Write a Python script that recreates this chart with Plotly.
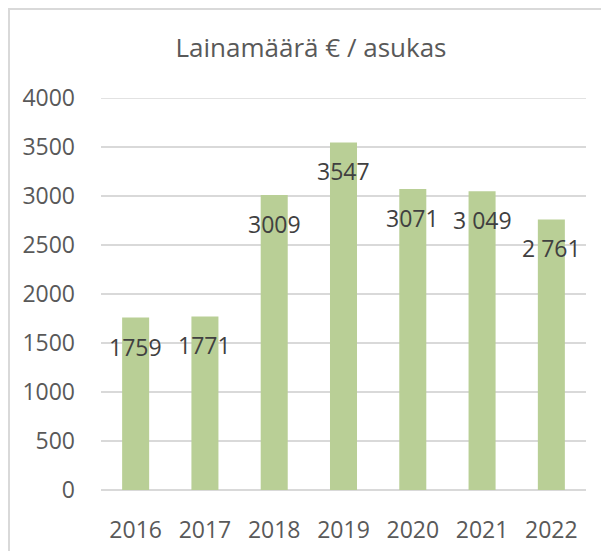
import plotly.graph_objects as go

years = ["2016", "2017", "2018", "2019", "2020", "2021", "2022"]
values = [1759, 1771, 3009, 3547, 3071, 3049, 2761]
value_labels = ["1759", "1771", "3009", "3547", "3071", "3 049", "2 761"]
y_ticks = [0, 500, 1000, 1500, 2000, 2500, 3000, 3500, 4000]
title_text = "Lainamäärä € / asukas"

FONT = "Open Sans"
OFF = 8  # page body margin
W, H = 609 - OFF, 551 - OFF
L, R, T, B = 101 - OFF, 23, 98 - OFF, 61
pw, ph = W - L - R, H - T - B

fig = go.Figure()
fig.add_trace(go.Bar(
    x=years, y=values,
    marker=dict(color="#B9CF96", line=dict(width=0)),
    hoverinfo="x+y",
))

for i, (v, lab) in enumerate(zip(values, value_labels)):
    fig.add_annotation(
        x=i, y=v, text=lab, showarrow=False,
        xref="x", yref="y", yanchor="middle", xanchor="center",
        yshift=-29,
        font=dict(family=FONT, size=23, color="#404040"),
    )

# top gridline at the range edge (plotly omits gridlines on the plot edge)
fig.add_shape(
    type="line", xref="paper", yref="y", x0=0, x1=1,
    y0=y_ticks[-1], y1=y_ticks[-1],
    line=dict(color="#D9D9D9", width=1.5), layer="below",
)

# chart border (left/top edges visible; right/bottom run past the window)
fig.add_shape(
    type="rect", xref="paper", yref="paper",
    x0=(1 - L) / pw, x1=(W + 6 - L) / pw,
    y0=-(H + 6 - (T + ph)) / ph, y1=(T + ph - 1) / ph,
    line=dict(color="#D9D9D9", width=2), fillcolor="rgba(0,0,0,0)", layer="below",
)

fig.update_layout(
    width=W, height=H,
    margin=dict(l=L, r=R, t=T, b=B, autoexpand=False),
    paper_bgcolor="white", plot_bgcolor="white",
    bargap=0.61,
    showlegend=False,
    title=dict(
        text=title_text, x=(311 - OFF) / W, xanchor="center", xref="container",
        y=1 - (48 - OFF) / H, yanchor="middle", yref="container",
        font=dict(family=FONT, size=26, color="#595959"),
    ),
    xaxis=dict(
        type="category", range=[-0.5, 6.5], showgrid=False, zeroline=False, showline=False,
        automargin=False,
        ticks="", tickfont=dict(family=FONT, size=23, color="#595959"),
        ticklabelstandoff=24,
    ),
    yaxis=dict(
        range=[0, 4000], tickvals=y_ticks, ticktext=[str(t) for t in y_ticks],
        automargin=False,
        showgrid=True, gridcolor="#D9D9D9", gridwidth=1.5,
        zeroline=True, zerolinecolor="#D9D9D9", zerolinewidth=1.5,
        showline=False, ticks="",
        tickfont=dict(family=FONT, size=23, color="#595959"),
        ticklabelstandoff=25,
    ),
)

fig.write_html("out.html")
